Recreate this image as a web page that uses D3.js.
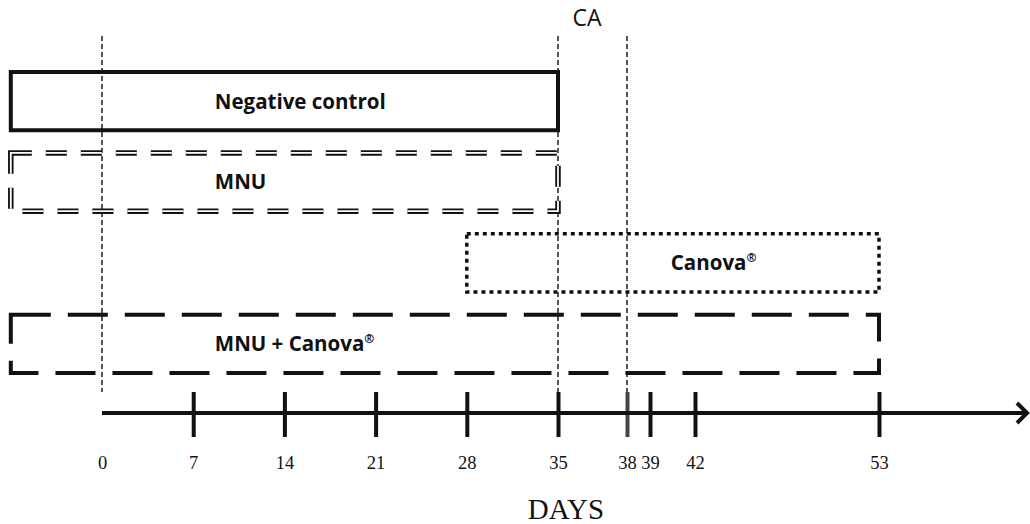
<!DOCTYPE html>
<html>
<head>
<meta charset="utf-8">
<script src="https://cdn.jsdelivr.net/npm/d3@7"></script>
<style>
	body { margin: 0; background: #fff; }
	svg { display: block; }
</style>
</head>
<body>
<svg></svg>
<script>
'use strict';

// treatment groups (one row each) and the day span of each box
const groups = ['Negative control', 'MNU', 'Canova®', 'MNU + Canova®'];
const startDay = [-7, -7, 28, -7];
const endDay = [35, 35, 53, 53];
const lineStyle = ['solid', 'double', 'dotted', 'dashed'];

// day ticks on the time axis (day 0 has a label but no tick mark)
const tickDays = [0, 7, 14, 21, 28, 35, 38, 39, 42, 53];
// dashed reference lines
const markerDays = [0, 35, 38];
const markerLabel = 'CA';
const axisTitle = 'DAYS';

const opts = {
	width: 1030,
	height: 524,
	axisY: 413,
	rowTop: 72,
	rowBottom: 373,
	labelOffset: 204,
	ink: '#111'
};

const svg = d3.select('svg')
	.attr('width', opts.width)
	.attr('height', opts.height);

// the schematic axis is not linear past day 35, so use a piecewise scale
const x = d3.scaleLinear()
	.domain([0, 35, 38, 39, 42, 53])
	.range([102, 558, 627, 650, 695, 879]);

const y = d3.scaleBand()
	.domain(groups)
	.range([opts.rowTop, opts.rowBottom])
	.paddingInner(0.28)
	.paddingOuter(0);

// vertical dashed reference lines
svg.append('g')
	.selectAll('line')
	.data(markerDays)
	.join('line')
	.attr('x1', (d) => x(d))
	.attr('x2', (d) => x(d))
	.attr('y1', 36)
	.attr('y2', 392)
	.attr('stroke', '#444')
	.attr('stroke-width', 1.8)
	.attr('stroke-dasharray', '5,3');

svg.append('text')
	.text(markerLabel)
	.attr('x', 587)
	.attr('y', 26)
	.attr('text-anchor', 'middle')
	.attr('font-family', 'Open Sans, sans-serif')
	.attr('font-size', 23)
	.attr('fill', opts.ink);

/*
* drawBox()
* draws one treatment box with its own line style
*/
const drawBox = (name, i) => {
	const x0 = x(startDay[i]);
	const x1 = x(endDay[i]);
	const y0 = y(name);
	const h = y.bandwidth();
	const path = `M ${x0} ${y0} H ${x1} V ${y0 + h} H ${x0} Z`;

	const grp = svg.append('g')
		.attr('class', 'box')
		.attr('fill', 'none');

	const style = lineStyle[i];
	if (style === 'solid') {
		grp.append('path').attr('d', path)
			.attr('stroke', opts.ink)
			.attr('stroke-width', 4);
	} else if (style === 'double') {
		// thick dashed stroke with a thin white core = double line
		grp.append('path').attr('d', path)
			.attr('stroke', opts.ink)
			.attr('stroke-width', 5.5)
			.attr('stroke-dasharray', '21,14');
		grp.append('path').attr('d', path)
			.attr('stroke', '#fff')
			.attr('stroke-width', 1.8)
			.attr('stroke-dasharray', '21,14');
	} else if (style === 'dotted') {
		grp.append('path').attr('d', path)
			.attr('stroke', opts.ink)
			.attr('stroke-width', 3.5)
			.attr('stroke-dasharray', '4,4');
	} else {
		grp.append('path').attr('d', path)
			.attr('stroke', opts.ink)
			.attr('stroke-width', 4)
			.attr('stroke-dasharray', '40,17');
	}

	// label, with ® raised as a superscript
	const parts = name.split('®');
	const txt = grp.append('text')
		.attr('x', x0 + opts.labelOffset)
		.attr('y', y0 + h / 2)
		.attr('dy', '0.36em')
		.attr('font-family', 'Open Sans, sans-serif')
		.attr('font-weight', 'bold')
		.attr('font-size', 20.5)
		.attr('fill', opts.ink)
		.attr('stroke', 'none');
	txt.append('tspan').text(parts[0]);
	if (parts.length > 1) {
		txt.append('tspan')
			.text('®')
			.attr('font-size', 12)
			.attr('dy', -8);
	}
};

groups.forEach(drawBox);

// time axis
const axis = d3.axisBottom(x)
	.tickValues(tickDays)
	.tickSize(24)
	.tickFormat(d3.format('d'));

const axisG = svg.append('g')
	.attr('transform', `translate(0, ${opts.axisY})`)
	.call(axis);

axisG.select('.domain').remove();
axisG.selectAll('.tick line')
	.attr('y1', -21)
	.attr('stroke', (d) => (d === 38 ? '#444' : opts.ink))
	.attr('stroke-width', 4)
	.attr('display', (d) => (d === 0 ? 'none' : null));
axisG.selectAll('.tick text')
	.attr('y', 56)
	.attr('dy', 0)
	.attr('font-family', 'Liberation Serif, serif')
	.attr('font-size', 18.5)
	.attr('fill', opts.ink);

// main line with an open arrowhead
const arrowEnd = opts.width - 3;
axisG.append('line')
	.attr('x1', x(0))
	.attr('x2', arrowEnd - 1)
	.attr('y1', 0)
	.attr('y2', 0)
	.attr('stroke', opts.ink)
	.attr('stroke-width', 4);
axisG.append('path')
	.attr('d', `M ${arrowEnd - 10} -10 L ${arrowEnd} 0 L ${arrowEnd - 10} 10`)
	.attr('fill', 'none')
	.attr('stroke', opts.ink)
	.attr('stroke-width', 4);

svg.append('text')
	.text(axisTitle)
	.attr('x', 566)
	.attr('y', 519)
	.attr('text-anchor', 'middle')
	.attr('font-family', 'Liberation Serif, serif')
	.attr('font-size', 29)
	.attr('fill', opts.ink);
</script>
</body>
</html>
